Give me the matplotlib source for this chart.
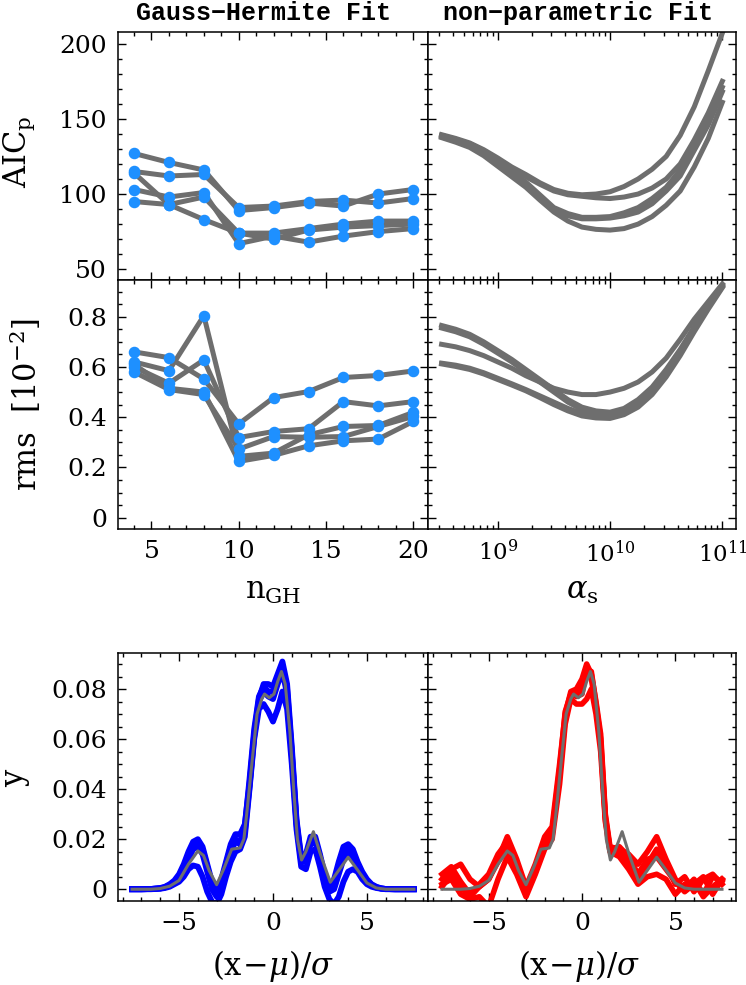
import numpy as np
import matplotlib
matplotlib.use('Agg')
import matplotlib.pyplot as plt
from matplotlib.ticker import MultipleLocator, LogLocator, NullFormatter

plt.rcParams['font.family'] = ['DejaVu Serif']
plt.rcParams['mathtext.fontset'] = 'dejavuserif'
plt.rcParams['axes.unicode_minus'] = True

# ---------------- data ----------------
n_gh = [4, 6, 8, 10, 12, 14, 16, 18, 20]

aic_gh_1 = [127, 121, 116, 89, 91, 94, 92, 100, 103]
aic_gh_2 = [115, 112, 113, 91, 92, 95, 96, 94, 97]
aic_gh_3 = [114, 93, 98, 74, 74, 77, 80, 82, 82]
aic_gh_4 = [103, 98, 101, 67, 72, 68, 72, 75, 77]
aic_gh_5 = [95, 93, 83, 74, 70, 76, 78, 79, 80]

rms_gh_1 = [0.62, 0.585, 0.804, 0.244, 0.257, 0.33, 0.363, 0.367, 0.419]
rms_gh_2 = [0.66, 0.637, 0.552, 0.373, 0.478, 0.502, 0.558, 0.566, 0.584]
rms_gh_3 = [0.60, 0.535, 0.628, 0.319, 0.343, 0.354, 0.462, 0.445, 0.462]
rms_gh_4 = [0.61, 0.515, 0.50, 0.224, 0.248, 0.286, 0.306, 0.313, 0.383]
rms_gh_5 = [0.58, 0.51, 0.49, 0.273, 0.323, 0.32, 0.323, 0.363, 0.403]

log_alpha = [8.5, 8.625, 8.75, 8.875, 9.0, 9.125, 9.25, 9.375, 9.5, 9.625, 9.75,
             9.875, 10.0, 10.125, 10.25, 10.375, 10.5, 10.625, 10.75, 10.875, 11.0]

aic_np_1 = [139.5, 137, 134, 129.5, 124, 118, 113, 107.5, 103, 100.5, 99.5,
            100, 101.5, 105, 110, 116.5, 125, 139, 158, 182, 207]
aic_np_2 = [139, 136.5, 133.5, 129, 123, 117, 111.5, 106.5, 102, 99.5, 98.5,
            97.5, 97, 98, 100, 104, 110, 120, 136, 154, 175]
aic_np_3 = [138.5, 136, 132.5, 127.5, 121, 114.5, 108, 99.5, 91, 87, 84.5,
            84.5, 85, 87.5, 91, 97, 104.5, 116, 131, 149, 171]
aic_np_4 = [138, 135.5, 132, 126.5, 120, 113, 106, 97.5, 89, 85.5, 83.5,
            83.5, 84, 85.5, 88, 93.5, 102, 112, 129, 146, 168]
aic_np_5 = [137.5, 134.5, 131, 125.5, 118.5, 111.5, 104.5, 96, 88, 82, 78,
            76.5, 76, 77, 80, 85, 92.5, 102, 118, 137, 161]

rms_np_1 = [0.765, 0.75, 0.73, 0.70, 0.665, 0.63, 0.59, 0.55, 0.51, 0.47, 0.44,
            0.425, 0.42, 0.435, 0.47, 0.52, 0.59, 0.67, 0.76, 0.845, 0.925]
rms_np_2 = [0.755, 0.74, 0.72, 0.69, 0.655, 0.62, 0.58, 0.54, 0.50, 0.46, 0.43,
            0.415, 0.41, 0.425, 0.46, 0.51, 0.58, 0.66, 0.75, 0.84, 0.92]
rms_np_3 = [0.69, 0.68, 0.665, 0.645, 0.62, 0.595, 0.565, 0.54, 0.515, 0.50, 0.49,
            0.49, 0.50, 0.515, 0.54, 0.58, 0.635, 0.71, 0.79, 0.86, 0.93]
rms_np_4 = [0.615, 0.607, 0.595, 0.577, 0.555, 0.533, 0.51, 0.485, 0.46, 0.435, 0.415,
            0.403, 0.40, 0.415, 0.45, 0.50, 0.575, 0.66, 0.755, 0.84, 0.92]
rms_np_5 = [0.612, 0.602, 0.59, 0.572, 0.55, 0.528, 0.505, 0.478, 0.45, 0.425, 0.405,
            0.397, 0.395, 0.41, 0.44, 0.49, 0.56, 0.645, 0.74, 0.83, 0.915]

# true distribution (grey)
x_true = [-7.5, -6.5, -6.0, -5.5, -5.0, -4.5, -4.0, -3.7, -3.4, -3.0, -2.6, -2.2,
          -1.75, -1.55, -1.4, -1.1, -0.85, -0.6, -0.45, -0.2, 0.05, 0.25, 0.45,
          0.65, 0.9, 1.1, 1.3, 1.52, 1.75, 2.15, 2.5, 3.05, 3.4, 4.0, 4.5, 5.0,
          5.5, 6.0, 7.5]
y_true = [0, 0, 0.0003, 0.0012, 0.0035, 0.0100, 0.0153, 0.0135, 0.0075, 0.0018,
          0.0085, 0.016, 0.0165, 0.020, 0.030, 0.052, 0.070, 0.076, 0.078, 0.0765,
          0.078, 0.083, 0.087, 0.082, 0.063, 0.040, 0.020, 0.0117, 0.015, 0.023,
          0.0145, 0.0028, 0.0065, 0.0128, 0.0077, 0.0025, 0.0005, 0, 0]

# Gauss-Hermite fits (blue)
x_gh = [-7.5, -7.0, -6.5, -6.0, -5.75, -5.5, -5.25, -5.0, -4.75, -4.5, -4.25, -4.0,
        -3.75, -3.5, -3.25, -3.0, -2.75, -2.5, -2.25, -2.0, -1.75, -1.5, -1.25, -1.0,
        -0.75, -0.5, -0.25, 0.0, 0.25, 0.5, 0.75, 1.0, 1.25, 1.5, 1.75, 2.0, 2.25,
        2.5, 2.75, 3.0, 3.25, 3.5, 3.75, 4.0, 4.25, 4.5, 4.75, 5.0, 5.25, 5.5, 5.75,
        6.0, 6.5, 7.0, 7.5]
y_gh_1 = [0, 0, 0.0001, 0.0005, 0.001, 0.002, 0.0035, 0.006, 0.010, 0.015, 0.019, 0.020,
          0.017, 0.010, 0.003, 0.000, 0.004, 0.011, 0.018, 0.022, 0.022, 0.026, 0.042, 0.062,
          0.076, 0.082, 0.082, 0.081, 0.086, 0.091, 0.082, 0.057, 0.028, 0.013, 0.014, 0.021,
          0.021, 0.014, 0.006, 0.002, 0.004, 0.011, 0.017, 0.018, 0.016, 0.011, 0.007, 0.004,
          0.002, 0.001, 0.0004, 0.0001, 0, 0, 0]
y_gh_2 = [0, 0, 0, 0.0002, 0.0005, 0.001, 0.002, 0.003, 0.005, 0.008, 0.0095, 0.009,
          0.005, -0.001, -0.005, -0.006, -0.002, 0.005, 0.011, 0.015, 0.016, 0.021, 0.040,
          0.060, 0.072, 0.074, 0.071, 0.067, 0.072, 0.079, 0.072, 0.050, 0.024, 0.009, 0.008,
          0.015, 0.016, 0.009, 0.001, -0.004, -0.006, -0.003, 0.003, 0.007, 0.008, 0.007,
          0.004, 0.002, 0.001, 0.0005, 0.0002, 0, 0, 0, 0]
y_gh_3 = [0, 0, 0.0001, 0.0003, 0.0007, 0.0015, 0.0028, 0.0045, 0.008, 0.012, 0.016, 0.017,
          0.014, 0.007, 0.000, -0.003, 0.001, 0.008, 0.015, 0.019, 0.018, 0.023, 0.041, 0.061,
          0.075, 0.079, 0.077, 0.076, 0.082, 0.087, 0.078, 0.054, 0.026, 0.011, 0.011, 0.018,
          0.019, 0.012, 0.004, -0.001, 0.000, 0.006, 0.012, 0.015, 0.013, 0.009, 0.006, 0.003,
          0.0015, 0.0007, 0.0003, 0.0001, 0, 0, 0]
y_gh_4 = [0, 0, 0.0001, 0.0004, 0.0008, 0.0018, 0.003, 0.005, 0.009, 0.014, 0.018, 0.019,
          0.016, 0.009, 0.002, -0.001, 0.003, 0.010, 0.017, 0.020, 0.019, 0.025, 0.044, 0.064,
          0.077, 0.081, 0.079, 0.079, 0.085, 0.089, 0.080, 0.055, 0.027, 0.012, 0.012, 0.019,
          0.020, 0.013, 0.005, 0.000, 0.002, 0.009, 0.015, 0.017, 0.015, 0.010, 0.006, 0.0035,
          0.0018, 0.0008, 0.0003, 0.0001, 0, 0, 0]

# non-parametric fits (red)
x_np = [-7.5, -7.0, -6.5, -6.0, -5.5, -5.0, -4.5, -4.0, -3.5, -3.0, -2.5, -2.0, -1.6,
        -1.2, -0.9, -0.6, -0.3, 0.0, 0.25, 0.5, 0.75, 1.0, 1.25, 1.5, 2.0, 2.5, 3.0,
        3.5, 4.0, 4.5, 5.0, 5.5, 6.0, 6.5, 7.0, 7.5]
y_np_1 = [0.004, 0.008, 0.010, 0.004, 0.001, 0.004, 0.012, 0.021, 0.012, 0.001, 0.010,
          0.021, 0.025, 0.050, 0.070, 0.079, 0.080, 0.084, 0.090, 0.086, 0.075, 0.062,
          0.030, 0.017, 0.016, 0.014, 0.010, 0.015, 0.021, 0.012, 0.004, 0.000, 0.004,
          -0.002, 0.005, 0.003]
y_np_2 = [0.006, 0.009, 0.003, -0.002, 0.002, 0.006, 0.014, 0.019, 0.009, -0.001, 0.008,
          0.018, 0.022, 0.046, 0.068, 0.077, 0.078, 0.080, 0.087, 0.084, 0.073, 0.058,
          0.028, 0.016, 0.015, 0.011, 0.004, 0.010, 0.016, 0.010, 0.002, 0.005, -0.001,
          0.004, 0.006, 0.002]
y_np_3 = [0.002, 0.004, -0.002, -0.004, -0.003, -0.007, 0.004, 0.013, 0.006, -0.003,
          0.006, 0.016, 0.020, 0.042, 0.066, 0.076, 0.074, 0.074, 0.076, 0.080, 0.070,
          0.055, 0.027, 0.015, 0.013, 0.008, 0.002, 0.005, 0.006, 0.004, -0.002, 0.002,
          0.003, -0.003, 0.001, 0.004]
y_np_4 = [0.001, 0.006, 0.001, -0.003, 0.001, 0.004, 0.011, 0.016, 0.008, 0.001, 0.007,
          0.019, 0.023, 0.048, 0.071, 0.078, 0.077, 0.078, 0.088, 0.087, 0.074, 0.060,
          0.029, 0.016, 0.017, 0.013, 0.006, 0.012, 0.013, 0.008, 0.003, -0.001, 0.002,
          0.005, -0.002, 0.004]

aic_yticks = [50, 100, 150, 200]
rms_yticks = [0, 0.2, 0.4, 0.6, 0.8]
rms_yticklabels = ['0', '0.2', '0.4', '0.6', '0.8']
ngh_xticks = [5, 10, 15, 20]
y_yticks = [0, 0.02, 0.04, 0.06, 0.08]
y_yticklabels = ['0', '0.02', '0.04', '0.06', '0.08']
dev_xticks = [-5, 0, 5]

# ---------------- style ----------------
GREY = '#6e6e6e'
MBLUE = '#1e90ff'
W, H = 746, 985
fig = plt.figure(figsize=(W / 100, H / 100), dpi=100)


def axes_px(x0, x1, y0, y1):
    return fig.add_axes([x0 / W, 1 - y1 / H, (x1 - x0) / W, (y1 - y0) / H])


def style(ax):
    ax.tick_params(which='both', direction='in', top=True, right=True,
                   labelsize=18, pad=8, colors='black')
    ax.tick_params(which='major', length=5.5, width=1.0)
    ax.tick_params(which='minor', length=3.0, width=1.0)
    for s in ax.spines.values():
        s.set_linewidth(1.1)


ax_tl = axes_px(118, 428, 32, 280)
ax_tr = axes_px(428, 736, 32, 280)
ax_ml = axes_px(118, 428, 280, 529)
ax_mr = axes_px(428, 736, 280, 529)
ax_bl = axes_px(118, 428, 653, 901)
ax_br = axes_px(428, 736, 653, 901)

for ax in [ax_tl, ax_tr, ax_ml, ax_mr, ax_bl, ax_br]:
    style(ax)

LW = 3.6
MS = 7.3

for ys in [aic_gh_1, aic_gh_2, aic_gh_3, aic_gh_4, aic_gh_5]:
    ax_tl.plot(n_gh, ys, '-', color=GREY, lw=LW, zorder=2, solid_capstyle='round')
for ys in [aic_gh_1, aic_gh_2, aic_gh_3, aic_gh_4, aic_gh_5]:
    ax_tl.plot(n_gh, ys, 'o', color=MBLUE, ms=MS, mec=MBLUE, zorder=3)

for ys in [rms_gh_1, rms_gh_2, rms_gh_3, rms_gh_4, rms_gh_5]:
    ax_ml.plot(n_gh, ys, '-', color=GREY, lw=LW, zorder=2, solid_capstyle='round')
for ys in [rms_gh_1, rms_gh_2, rms_gh_3, rms_gh_4, rms_gh_5]:
    ax_ml.plot(n_gh, ys, 'o', color=MBLUE, ms=MS, mec=MBLUE, zorder=3)

alpha = 10.0 ** np.array(log_alpha)
for ys in [aic_np_1, aic_np_2, aic_np_3, aic_np_4, aic_np_5]:
    ax_tr.plot(alpha, ys, '-', color=GREY, lw=LW)
for ys in [rms_np_1, rms_np_2, rms_np_3, rms_np_4, rms_np_5]:
    ax_mr.plot(alpha, ys, '-', color=GREY, lw=LW)

for ys in [y_gh_1, y_gh_2, y_gh_3, y_gh_4]:
    ax_bl.plot(x_gh, ys, '-', color='#0000ff', lw=4.2)
ax_bl.plot(x_true, y_true, '-', color=GREY, lw=2.2)

for ys in [y_np_1, y_np_2, y_np_3, y_np_4]:
    ax_br.plot(x_np, ys, '-', color='#ff0000', lw=4.0)
ax_br.plot(x_true, y_true, '-', color=GREY, lw=2.2)

for ax in [ax_tl, ax_ml]:
    ax.set_xlim(3.08, 20.85)
    ax.set_xticks(ngh_xticks)
    ax.xaxis.set_minor_locator(MultipleLocator(1))
for ax in [ax_tr, ax_mr]:
    ax.set_xscale('log')
    ax.set_xlim(10 ** 8.379, 10 ** 11.122)
    ax.xaxis.set_major_locator(LogLocator(base=10, numticks=10))
    ax.xaxis.set_minor_locator(LogLocator(base=10, subs=np.arange(2, 10), numticks=20))
    ax.xaxis.set_minor_formatter(NullFormatter())
    ax.tick_params(axis='x', labelsize=16.5)
for ax in [ax_tl, ax_tr]:
    ax.set_ylim(42.8, 207.8)
    ax.set_yticks(aic_yticks)
    ax.yaxis.set_minor_locator(MultipleLocator(10))
    ax.tick_params(labelbottom=False)
for ax in [ax_ml, ax_mr]:
    ax.set_ylim(-0.045, 0.946)
    ax.set_yticks(rms_yticks, rms_yticklabels)
    ax.yaxis.set_minor_locator(MultipleLocator(0.05))
for ax in [ax_bl, ax_br]:
    ax.set_xlim(-8.25, 8.25)
    ax.set_xticks(dev_xticks)
    ax.xaxis.set_minor_locator(MultipleLocator(1))
    ax.set_ylim(-0.0047, 0.0944)
    ax.set_yticks(y_yticks, y_yticklabels)
    ax.yaxis.set_minor_locator(MultipleLocator(0.005))
for ax in [ax_tr, ax_mr, ax_br]:
    ax.tick_params(labelleft=False)

LBL = 22
fig.text(19 / W, 1 - 152 / H, r'$\mathrm{AIC_p}$', rotation=90, ha='center', va='center', fontsize=LBL)
fig.text(26 / W, 1 - 404 / H, r'$\mathrm{rms\ \ [10^{-2}]}$', rotation=90, ha='center', va='center', fontsize=LBL)
fig.text(16 / W, 1 - 777 / H, r'$\mathrm{y}$', rotation=90, ha='center', va='center', fontsize=LBL)
fig.text(273 / W, 1 - 591 / H, r'$\mathrm{n_{GH}}$', ha='center', va='center', fontsize=LBL)
fig.text(582 / W, 1 - 591 / H, r'$\alpha_\mathrm{s}$', ha='center', va='center', fontsize=LBL)
fig.text(273 / W, 1 - 966 / H, r'$\mathrm{(x\!-\!}\mu\mathrm{)/}\sigma$', ha='center', va='center', fontsize=LBL)
fig.text(579 / W, 1 - 966 / H, r'$\mathrm{(x\!-\!}\mu\mathrm{)/}\sigma$', ha='center', va='center', fontsize=LBL)

TF = ['Liberation Mono', 'DejaVu Sans Mono']
fig.text(263 / W, 1 - 13 / H, 'Gauss\u2212Hermite Fit', ha='center', va='center',
         fontsize=18, fontweight='bold', family=TF)
fig.text(578 / W, 1 - 13 / H, 'non\u2212parametric Fit', ha='center', va='center',
         fontsize=18, fontweight='bold', family=TF)

fig.savefig('out.png', dpi=100)
